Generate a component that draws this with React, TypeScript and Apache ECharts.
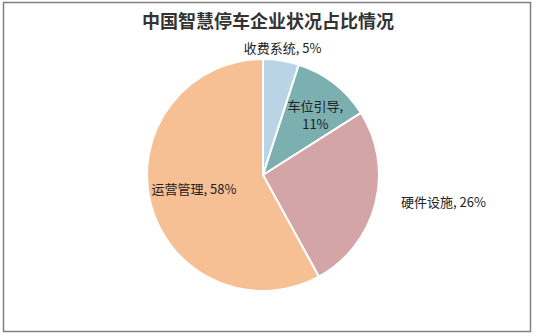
import { useEffect, useRef } from 'react';
import * as echarts from 'echarts';

const titleText = '中国智慧停车企业状况占比情况';
const categories = ['收费系统', '车位引导', '硬件设施', '运营管理'];
const values = [5, 11, 26, 58];
const sliceColors = ['#B8D4E5', '#7BAFB0', '#D4A5A6', '#F7BF94'];
const labelPositions = ['outside', 'inside', 'outside', 'inside'];
const labelBreaks = [false, true, false, false];

const FONT = '"Noto Sans CJK SC", "Noto Sans", sans-serif';

export default function App() {
  const ref = useRef<HTMLDivElement>(null);
  useEffect(() => {
    const chart = echarts.init(ref.current!, null, { renderer: 'svg' });
    chart.setOption({
      animation: false,
      backgroundColor: '#ffffff',
      title: {
        text: titleText,
        left: 'center',
        top: 11,
        padding: 0,
        textStyle: { fontFamily: FONT, fontSize: 18, fontWeight: 'bold', color: '#333333' },
      },
      graphic: [
        {
          type: 'rect',
          shape: { x: 3.5, y: 2.5, width: 527, height: 329 },
          style: { fill: 'none', stroke: '#808080', lineWidth: 1.5 },
          silent: true,
        },
      ],
      series: [
        {
          type: 'pie',
          center: [263, 175],
          radius: 116,
          startAngle: 90,
          clockwise: true,
          itemStyle: { borderColor: '#ffffff', borderWidth: 2 },
          labelLine: { show: false, length: 10, length2: 8 },
          label: { fontFamily: FONT, fontSize: 13, color: '#222222', lineHeight: 18 },
          labelLayout: (p: any) => {
            if (p.dataIndex === 0) return { dx: -52, dy: -3 };
            if (p.dataIndex === 1) return { dx: 15, dy: -12 };
            if (p.dataIndex === 2) return { dx: 3, dy: -5 };
            if (p.dataIndex === 3) return { dx: -10, dy: -2 };
            return {};
          },
          data: categories.map((name, i) => ({
            name,
            value: values[i],
            itemStyle: { color: sliceColors[i] },
            label: {
              position: labelPositions[i],
              formatter: labelBreaks[i] ? `${name},\n${values[i]}%` : `${name}, ${values[i]}%`,
            },
          })),
        },
      ],
    });
    return () => chart.dispose();
  }, []);
  return <div ref={ref} style={{ position: 'fixed', left: 0, top: 0, width: 536, height: 336 }} />;
}
